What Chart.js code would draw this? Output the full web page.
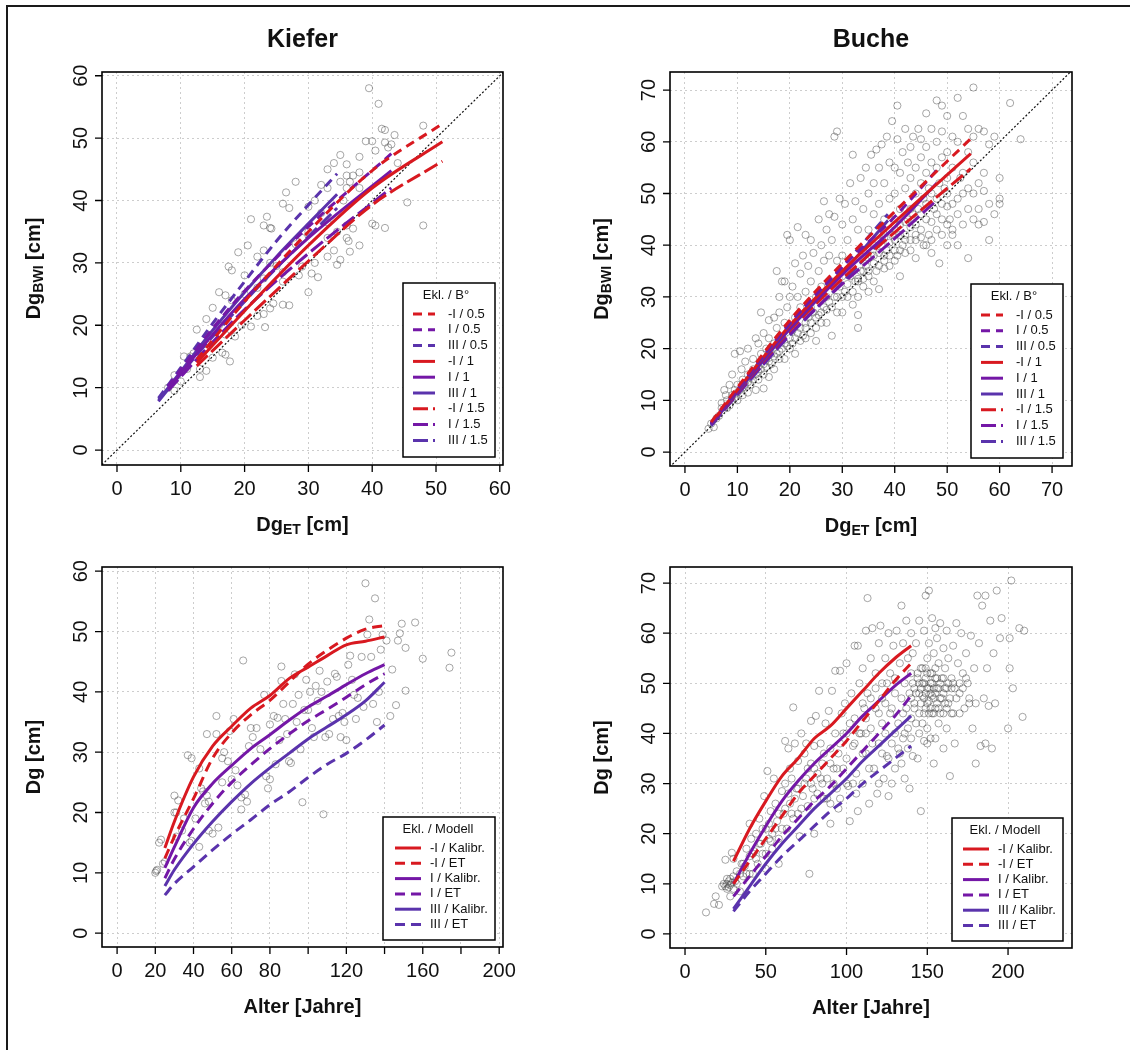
<!DOCTYPE html>
<html>
<head>
<meta charset="utf-8">
<script src="https://cdn.jsdelivr.net/npm/chart.js@4.4.0/dist/chart.umd.min.js"></script>
<style>
    body { margin: 0; background: #fff; overflow: hidden; width: 1130px; height: 1050px; }
    #frame { position: absolute; left: 6px; top: 5px; width: 1130px; height: 1050px; border-top: 2px solid #1a1a1a; border-left: 2px solid #1a1a1a; }
    .panel { position: absolute; }
</style>
</head>
<body>
<div id="frame"></div>
<canvas class="panel" id="kieferTop" width="565" height="545" style="left:0;top:0"></canvas>
<canvas class="panel" id="bucheTop" width="565" height="545" style="left:565px;top:0"></canvas>
<canvas class="panel" id="kieferBottom" width="565" height="505" style="left:0;top:545px"></canvas>
<canvas class="panel" id="bucheBottom" width="565" height="505" style="left:565px;top:545px"></canvas>
<script>
const RED = '#d81920';
const PURPLE = '#7417a6';
const BLUE = '#5a33ac';
const FONT = '"Liberation Sans", Arial, sans-serif';

// ---- axis ticks ----
const kTopTicks = [0, 10, 20, 30, 40, 50, 60];
const bTopTicks = [0, 10, 20, 30, 40, 50, 60, 70];
const kAgeTicks = [0, 20, 40, 60, 80, 100, 120, 140, 160, 180, 200];
const kAgeLabels = [0, 20, 40, 60, 80, 120, 160, 200];
const bAgeTicks = [0, 50, 100, 150, 200];

// ---- legend labels ----
const topLegend = ['-I / 0.5', 'I / 0.5', 'III / 0.5', '-I / 1', 'I / 1', 'III / 1', '-I / 1.5', 'I / 1.5', 'III / 1.5'];
const bottomLegend = ['-I / Kalibr.', '-I / ET', 'I / Kalibr.', 'I / ET', 'III / Kalibr.', 'III / ET'];

// ---- Kiefer, Dg ET vs Dg BWI ----
const kTopXmI = [12.5, 20, 30, 40, 51];
const kTopMI05 = [14.5, 23.8, 35, 44.8, 52.3];
const kTopMI1 = [14, 22.3, 32.8, 42, 49.4];
const kTopMI15 = [13.5, 20.8, 30.3, 39.3, 46.3];
const kTopXI = [8, 15, 20, 30, 43];
const kTopI05 = [10.2, 19.5, 25.5, 35.8, 47.5];
const kTopI1 = [9.8, 18.5, 24.2, 34, 44.8];
const kTopI15 = [9.5, 17.3, 22.5, 31.5, 42];
const kTopXIII = [6.5, 10, 15, 20, 25, 30, 34.5];
const kTopIII05 = [8.3, 13.2, 20.3, 27, 33.5, 39.3, 44.3];
const kTopIII1 = [8, 12.6, 19.2, 25.3, 31, 36.3, 41];
const kTopIII15 = [7.8, 12.2, 18.2, 23.8, 29.2, 34.2, 38.8];
const kTopPoints = [
    [39.5,58],[41,55.5],[41.5,51.5],[48,52],[42,51.3],[43.5,50.5],[39,49.5],[42,49.3],[40,49.5],[43,49],
    [40.5,48],[42.5,48.5],[38,47],[44,46],[35,47.3],[34,46],[36,45.8],[33,45],[38,44.5],[36,44],
    [37,44],[35,43],[36.5,43],[28,43],[32,42.5],[26.5,41.3],[33,42],[36,42],[38,42],[35.5,40],
    [45.5,39.7],[31,40],[30,39],[26,39.5],[27,38.8],[32,38],[21,37],[24,35.6],[23.5,37.4],[23,36],
    [24.2,35.5],[33,36.5],[36,36],[40,36.3],[42,35.6],[48,36],[37,35.5],[40.5,36],[34.5,35],[30,35],
    [29,34],[28,33],[33,34],[36,34],[36.3,33.5],[38,32.8],[34,32],[33,31],[35,30.5],[36.5,31.8],
    [34.5,29.7],[31,30],[29,29.4],[30.5,28.3],[31.5,27.7],[20.5,32.8],[19,31.7],[23,32],[22,31],[24,30],
    [25,29.5],[17.5,29.4],[18,28.8],[26,28.5],[20,28],[23,27.5],[28.5,28],[26,27],[22,26],[16,25.3],
    [17,24.8],[18,24],[20,25],[30,25.3],[27,23.2],[26,23.3],[24.5,23.5],[24,22.7],[23,21.8],[22,21.5],
    [19.5,20],[23.2,19.7],[21,19.8],[15,22.8],[14,21],[16,20],[17,18.5],[18.5,18.2],[12.5,19.3],[14,17],
    [16.5,15.6],[17,15.3],[17.7,14.2],[15,14.8],[13,13],[14,12.7],[13,11.7],[11.5,15],[10.5,15],[12,15.5],
    [11,13],[9,12],[10,11],[8,10],[9,9.5]
];

// ---- Buche, Dg ET vs Dg BWI ----
const bTopXmI = [5, 10, 20, 30, 40, 54.5];
const bTopMI05 = [5.8, 12.5, 25.5, 36.5, 46.5, 60.6];
const bTopMI1 = [5.6, 12, 24.5, 35, 44.5, 57.7];
const bTopMI15 = [5.4, 11.5, 23.5, 33.5, 42.5, 54.8];
const bTopXI = [5, 10, 20, 30, 40, 48];
const bTopI05 = [5.6, 12.2, 25, 35.8, 45.5, 54.5];
const bTopI1 = [5.4, 11.8, 24, 34.3, 43.5, 52];
const bTopI15 = [5.3, 11.3, 22.8, 32.5, 41.3, 48.7];
const bTopXIII = [5, 10, 20, 30, 38.7];
const bTopIII05 = [5.5, 12, 24.8, 35.8, 46];
const bTopIII1 = [5.3, 11.6, 23.8, 34.6, 44.8];
const bTopIII15 = [5.1, 11.1, 22.6, 32.8, 42.3];
const bTopPoints = [
    [4.5,4.5],[5,5.5],[5.5,4.8],[6,6.5],[6.5,7],[7,8.5],[7,9.5],[7.5,12],[7.8,11],[8,10],
    [8,8.5],[8.5,13],[9,15],[9,11],[9.5,19],[9.5,12],[10,13],[10,10],[10.5,19.5],[10.8,16],
    [11,12.5],[11,14],[11.5,17.5],[12,11.5],[12,20],[12,15],[12.5,13],[13,18],[13,16],[13.5,12],
    [13.5,22],[14,21],[14,16.5],[14.5,27],[14.5,19],[15,15],[15,12.3],[15,23],[15.5,20],[15.5,18],
    [16,25.5],[16,14.5],[16,22],[16.5,19],[17,21],[17,26],[17,16],[17.5,35],[17.5,24],[18,27],
    [18,19.5],[18,30],[18.5,33],[18.5,22],[19,33],[19,18],[19,25],[19.5,42],[19.5,28],[20,41],
    [20,22],[20,30],[20.5,23.5],[20.5,32],[21,36.5],[21,26],[21,19],[21.5,43.5],[21.5,30],[22,34.5],
    [22,28],[22,21.5],[22.5,38],[23,42],[23,31],[23,25],[23,22],[23.5,36],[24,41],[24,33],
    [24,28],[24,23],[24.5,38.5],[25,30],[25,26],[25,21.5],[25.5,45],[25.5,35],[26,40],[26,32],
    [26,27],[26.5,48.5],[26.5,37],[27,43],[27,30],[27,25],[27.5,46],[27.5,38],[28,41],[28,33],
    [28,22.5],[28.5,61],[28.5,45.5],[29,62],[29,37],[29,30],[29.5,49],[30,44],[30,38],[30,34],
    [30,27],[30.5,48],[31,41],[31,35],[31,30],[31.5,52],[32,57.5],[32,45],[32,37],[32,28.5],
    [32.5,48.5],[33,43],[33,33.5],[33,26.5],[33,24],[33.5,53],[34,47],[34,39],[34,35],[34.5,55],
    [35,50],[35,43],[35,37.5],[35,31],[35.5,57.5],[36,52],[36,46],[36,40],[36,33],[36.5,58.5],
    [37,55],[37,48],[37,42],[37,31.5],[37.5,59.5],[38,52],[38,45],[38,38],[38,35.5],[38.5,61],
    [39,56],[39,49],[39,43],[39,36],[39.5,64],[40,55],[40,50],[40,45],[40,39],[40.5,67],
    [40.5,60.5],[41,54],[41,47],[41,42],[41,34],[41.5,58],[42,62.5],[42,51],[42,44.5],[42,38.5],
    [42.5,56],[43,59],[43,53],[43,47],[43,41],[43.5,61],[44,55],[44,50],[44,44],[44,37.5],
    [44.5,62.5],[45,60.5],[45,57],[45,52],[45,46],[45.5,40],[46,65.5],[46,59],[46,54],[46,48],
    [46.5,42],[47,62.5],[47,56],[47,50],[47,38.5],[48,68],[48,60],[48,55],[48,49],[48.5,36.5],
    [49,67],[49,62],[49,57],[49,45],[49.5,51],[50,65],[50,58],[50,53],[50,47.5],[50,40],
    [51,61],[51,55],[51,43],[52,68.5],[52,60],[52,49],[53,65],[53,54],[53,44],[54,62.5],
    [54,58],[54,51],[54,37.5],[55,70.5],[55,61],[55,56],[55,50],[56,62.5],[56,52],[56,47],
    [57,62],[57,54],[57,44.5],[58,59.5],[58,48],[59,61],[60,53],[60,48],[62,67.5],[64,60.5],
    [8.5,9],[9,10],[9.5,10.5],[10,11.5],[10.5,12],[11,11],[11.5,13],[12,13.5],[12.5,14.5],[13,14],
    [13.5,15],[14,14],[14,15.5],[14.5,16],[15,17],[15.5,16.5],[16,17.5],[16.5,17],[17,18.5],[17.5,19],
    [18,18],[18.5,20],[19,21],[19.5,20.5],[20,20],[20.5,21],[21,22],[21.5,23],[22,24],[22.5,22.5],
    [23,24],[23.5,26],[24,25],[24.5,27],[25,24],[25.5,26.5],[26,25],[26.5,28],[27,27.5],[27.5,29],
    [28,28],[28.5,30],[29,27],[29.5,32],[30,30],[30.5,31],[31,32.5],[31.5,34],[32,31],[32.5,33],
    [33,30],[33.5,35],[34,32],[34.5,36],[35,34],[35.5,38],[36,36.5],[36.5,35],[37,38.5],[37.5,40],
    [38,41.5],[38.5,39],[39,40.5],[39.5,42],[40,41],[40.5,38],[41,44],[41.5,40],[42,42],[42.5,45],
    [43,43.5],[43.5,46],[44,41],[44.5,47],[45,43],[45.5,49],[46,45],[46.5,51],[47,44.5],[47.5,47],
    [48,46],[48.5,52],[49,48],[50,50],[50.5,45],[51,48],[52,46],[52.5,53],[53,50],[54,47],
    [55,45],[56,44],[57,50.5],[58,41],[59,46],[60,49],[33,33],[34,33.5],[35,35],[36,38],
    [37,36],[38,37],[39,38],[40,37],[41,39],[42,41],[43,39],[44,42],[45,41.5],[46,40],
    [47,41],[48,43],[49,42],[50,44],[51,42],[52,40]
];

// ---- Kiefer, Alter vs Dg ----
const kAge = [25, 30, 40, 50, 60, 70, 80, 90, 100, 110, 120, 130, 140];
const kMIKal = [14.1, 18.5, 25.9, 31, 34.3, 37.3, 39.4, 42.2, 44.1, 46, 47.8, 48.4, 49.1];
const kMIEt = [12.4, 16, 22.3, 29, 33.2, 36.2, 38.6, 41.6, 44.6, 46.9, 48.9, 50.4, 51];
const kIKal = [10.8, 14.3, 20.8, 24.8, 27.8, 30.6, 32.9, 35.3, 37.5, 39.3, 41.2, 43, 44.5];
const kIEt = [9.1, 12.3, 17.3, 21.5, 25, 27.9, 30.6, 33, 35.2, 37.1, 39.1, 41.2, 43];
const kIIIKal = [7.8, 10.5, 14.8, 18.5, 21.8, 24.8, 27.4, 29.8, 32.2, 34.2, 36.2, 38.5, 41.6];
const kIIIEt = [6.3, 8.2, 11, 13.8, 16.4, 18.8, 21.3, 23.4, 25.8, 28, 29.8, 32, 34.5];
const kAgePoints = [
    [20,10],[20.5,10.3],[21,10.5],[22,15],[23,15.5],[24,11.5],[25,11.8],[30,22.8],[30,20],[31,20],
    [32,22],[31,16],[35,19],[34,17],[37,29.5],[39,29],[38,15],[39,15.3],[41,19],[43,27.3],
    [43,14.3],[44,24],[45,23.5],[46,21.5],[47,22.8],[47,33],[48,17],[48,21.8],[50,16.5],[52,36],
    [52,33],[53,17.5],[55,25],[55,29],[56,30],[58,28.5],[59,33.5],[60,25.5],[61,35.5],[62,27],
    [63,24.5],[65,22.5],[65,20.5],[66,45.2],[67,23],[68,21.8],[69,31],[70,34],[71,32.5],[73,34],
    [75,30.5],[77,39.5],[78,26],[79,24],[80,25.5],[80,34.6],[82,36],[83,28],[84,35.7],[85,32],
    [86,44.2],[86,41.8],[87,38],[88,35.5],[89,33],[90,28.5],[91,28.2],[92,38],[93,42.9],[94,35],
    [95,39.5],[96,30.5],[97,21.7],[98,37],[99,42],[100,37],[101,40],[102,34],[103,32.5],[104,41],
    [105,38.5],[106,43.5],[107,40],[108,19.7],[109,32.5],[110,41.7],[111,33],[113,35.5],[114,43],[115,42.5],
    [116,36],[117,32.5],[118,36.5],[119,35],[120,32],[121,44.5],[122,46],[123,42],[124,39.5],[125,35.5],
    [126,39],[128,45.8],[129,37.5],[130,58],[131,49.5],[132,52],[133,45.8],[134,38],[135,55.5],[136,35],
    [137,40],[138,47],[139,49.5],[141,48.5],[143,36],[144,43.7],[146,37.8],[147,48.5],[148,49.7],[149,51.3],
    [151,47.3],[151,40.2],[156,51.5],[160,45.5],[174,44],[175,46.5]
];

// ---- Buche, Alter vs Dg ----
const bAge = [30, 40, 50, 60, 70, 80, 90, 100, 110, 120, 130, 140];
const bMIKal = [14.5, 21, 26.5, 31.5, 35, 39, 41.5, 45, 48.5, 52, 55, 57.5];
const bMIEt = [10, 14.5, 19, 23.5, 28, 31.5, 35, 38.5, 42.5, 46.5, 50.5, 54];
const bIKal = [10, 16, 21.5, 26.5, 30.5, 34, 37, 40, 43.5, 46.5, 49.5, 52];
const bIEt = [7.5, 11.5, 15.5, 19.5, 23, 26.5, 29.5, 33, 36.5, 40, 43.5, 47.5];
const bIIIKal = [5, 9.5, 14, 18, 21.5, 25, 28, 31, 34.5, 37.5, 40.5, 43.5];
const bIIIEt = [4.5, 8.5, 12, 15.5, 18.5, 21.5, 24.5, 27, 30, 32.5, 35, 37.5];
const bAgePoints = [
    [13,4.3],[18,6],[19,7.5],[21,5.8],[23,9.5],[24,10],[25,14.8],[26,9],[26,11],[27,10.5],
    [28,9.8],[28,7.5],[29,16.2],[30,11.5],[30,15],[31,10.5],[32,12.5],[34,8.5],[35,14],[36,11.5],
    [37,13.5],[38,17],[40,22],[40,15.5],[41,19],[42,12],[43,16.5],[44,20],[45,14],[46,23],
    [47,18],[48,21],[49,27.5],[50,16],[50,13],[51,32.5],[52,22],[53,24.5],[53,18.5],[54,20],
    [55,31],[56,26],[57,22.5],[58,14],[58,19],[60,28.5],[61,24],[62,38.5],[62,30],[63,21],
    [64,37],[65,33],[65,26],[66,31],[67,45.2],[67,23],[68,38],[69,29],[70,34.5],[70,24],
    [71,19.5],[72,40],[73,27.5],[74,36],[75,38],[75,31],[76,25.5],[77,12],[78,42.5],[78,34],
    [79,29],[80,37.5],[80,20],[81,43.5],[82,32],[83,48.5],[84,38],[85,34],[86,27],[87,42],
    [88,31],[89,44.5],[90,37],[90,22],[91,48.5],[92,33],[93,52.5],[93,40],[94,29],[95,25],
    [96,52.5],[96,38],[97,44],[98,33],[99,46],[100,54],[100,40],[101,29.5],[102,22.5],[103,48],
    [104,37.5],[105,57.5],[105,43],[106,32],[107,57.5],[107,24.5],[108,50],[109,40],[110,53],[110,30],
    [111,45],[112,60.5],[112,36],[113,67],[113,48],[114,26],[115,55],[115,41],[116,61],[117,33],
    [118,52],[118,45],[119,28],[120,58],[120,38],[121,61.5],[122,50],[122,42],[123,31],[124,55],
    [124,46],[125,35.5],[126,60],[126,27.5],[127,52],[127,44],[128,38],[129,57.5],[130,48],[130,33],
    [131,60.5],[132,42],[133,54],[133,36],[134,65.5],[134,47],[135,58],[135,39],[136,50],[136,31],
    [137,62.5],[137,45],[138,55],[138,37],[139,48],[139,29],[140,60],[140,52],[140,43],[141,56],
    [141,35.5],[142,49],[142,46],[143,58],[143,42],[144,51],[144,35],[145,62.5],[145,48],[145,44],
    [146,53],[146,24.5],[147,50],[147,42],[148,60.5],[148,47],[148,38.5],[149,67.5],[149,51],[149,45],
    [150,55],[150,49],[150,41],[151,68.5],[151,58],[151,46.5],[152,52],[152,48],[152,39],[153,63],
    [153,50],[153,44],[154,56],[154,47],[154,34],[155,61],[155,51],[155,45],[156,59],[156,49],
    [157,42],[157,54],[158,62],[158,47],[159,51],[160,57],[160,44],[160,37],[161,53],[161,49],
    [162,60.5],[162,41],[163,55],[163,46],[164,31.5],[165,51],[166,57.5],[166,44],[167,49],[167,38],
    [168,62],[169,54],[170,48],[170,44],[171,60],[172,52],[173,45],[174,56],[175,50],[176,47],
    [177,59.5],[178,41],[179,53],[180,34],[180,46],[181,67.5],[182,58],[183,37.5],[184,65.5],[185,47],
    [186,67.5],[186,38],[187,53],[188,45.5],[189,62.5],[190,37],[191,56],[192,46],[193,68.5],[195,59],
    [196,63],[200,41],[201,59],[201,53],[202,70.5],[203,49],[207,61],[209,43.3],[210,60.5],
    [140,47],[141,50],[142,45],[143,48],[144,52],[145,50],[146,46],[146,49],[147,53],[147,47.5],
    [148,50],[148,44],[149,48],[149,53],[150,46],[150,52],[151,49],[151,44],[152,50],[152,45],
    [153,47.5],[153,52],[154,49],[154,44],[155,48],[155,53],[156,46],[156,51],[157,49],[157,45],
    [158,50],[158,44],[159,47],[160,51],[160,48],[161,46],[162,49],[162,45],[163,50],[164,47],
    [165,49],[165,44],[166,50],[168,47],[170,50],[172,49],[174,51],[176,46],[145,40],[150,38],
    [155,39],[140,39],[135,44],[130,51],[128,45],[125,50],[122,47],[120,44],[118,49],[115,47],
    [112,43],[110,46],[108,40],[105,38],[102,42],[100,35],[98,40],[95,36],[92,30],[90,34],
    [88,27],[85,30],[82,28],[80,33],[78,30],[76,33],[74,30],[72,25],[70,29],[68,27],
    [66,24],[64,28],[62,25],[60,21],[58,24],[56,21],[54,17],[52,19],[50,21],[48,16],
    [46,18],[44,15],[42,16],[40,12],[38,12],[36,14],[34,12],[32,10],[30,9],[28,11],
    [26,10],[27,9.3],[29,10.2],[25,9.5],[138,41],[136,40],[134,34],[132,37],[130,40],[128,30],
    [126,35],[124,40],[122,36],[120,30],[116,38],[114,33],[112,40],[110,36],[106,28],[104,30],
    [100,30],[96,27],[94,33],[90,26],[86,36],[84,31],[80,27]
];

const DASH_05 = [9, 6];
const DASH_15 = [15, 5];
const DASH_ET = [10, 6];

function pts(xs, ys) {
    return xs.map((v, i) => ({ x: v, y: ys[i] }));
}

function curve(label, xs, ys, color, dash) {
    return {
        label: label,
        data: pts(xs, ys),
        showLine: true,
        borderColor: color,
        backgroundColor: color,
        borderWidth: 3,
        borderDash: dash,
        pointRadius: 0,
        cubicInterpolationMode: 'monotone',
        legendEntry: true,
        order: 0
    };
}

function cloud(pairs) {
    return {
        label: 'obs',
        data: pairs.map(p => ({ x: p[0], y: p[1] })),
        pointStyle: 'circle',
        pointRadius: 3.6,
        borderWidth: 0.9,
        borderColor: 'rgba(60,60,60,0.5)',
        backgroundColor: 'rgba(0,0,0,0)',
        order: 10
    };
}

function diagonal(max) {
    return {
        label: '1:1',
        data: [{ x: -10, y: -10 }, { x: max, y: max }],
        showLine: true,
        borderColor: '#111',
        borderWidth: 1.2,
        borderDash: [2, 2],
        pointRadius: 0,
        order: 5
    };
}

function drawLabel(ctx, cx, cy, parts) {
    const big = 'bold 20px ' + FONT;
    const small = 'bold 14px ' + FONT;
    ctx.font = big;
    const w0 = ctx.measureText(parts[0]).width;
    const w2 = ctx.measureText(parts[2]).width;
    ctx.font = small;
    const w1 = ctx.measureText(parts[1]).width;
    let xPos = cx - (w0 + w1 + w2) / 2;
    ctx.textAlign = 'left';
    ctx.textBaseline = 'middle';
    ctx.font = big;
    ctx.fillText(parts[0], xPos, cy);
    xPos += w0;
    ctx.font = small;
    ctx.fillText(parts[1], xPos, cy + 5);
    xPos += w1;
    ctx.font = big;
    ctx.fillText(parts[2], xPos, cy);
}

// draws the R style box, ticks, labels, titles and legend
const rStyle = {
    id: 'rStyle',
    afterDraw(chart, args, o) {
        const ctx = chart.ctx;
        const a = chart.chartArea;
        const xs = chart.scales.x;
        const ys = chart.scales.y;
        ctx.save();
        ctx.strokeStyle = '#000';
        ctx.lineWidth = 1.6;
        ctx.setLineDash([]);
        ctx.strokeRect(a.left, a.top, a.right - a.left, a.bottom - a.top);

        ctx.lineWidth = 1.3;
        ctx.beginPath();
        o.xTicks.forEach(v => {
            const p = xs.getPixelForValue(v);
            ctx.moveTo(p, a.bottom);
            ctx.lineTo(p, a.bottom + 7);
        });
        o.yTicks.forEach(v => {
            const p = ys.getPixelForValue(v);
            ctx.moveTo(a.left, p);
            ctx.lineTo(a.left - 7, p);
        });
        ctx.stroke();

        ctx.fillStyle = '#111';
        ctx.font = '20px ' + FONT;
        ctx.textAlign = 'center';
        ctx.textBaseline = 'middle';
        o.xLabels.forEach(v => ctx.fillText(String(v), xs.getPixelForValue(v), a.bottom + 24));
        o.yTicks.forEach(v => {
            ctx.save();
            ctx.translate(a.left - 21, ys.getPixelForValue(v));
            ctx.rotate(-Math.PI / 2);
            ctx.fillText(String(v), 0, 0);
            ctx.restore();
        });

        const midX = (a.left + a.right) / 2;
        const midY = (a.top + a.bottom) / 2;
        if (o.title) {
            ctx.font = 'bold 25px ' + FONT;
            ctx.fillText(o.title, midX, a.top - 32);
        }
        if (o.xTitle.length === 1) {
            ctx.font = 'bold 20px ' + FONT;
            ctx.fillText(o.xTitle[0], midX, a.bottom + 60);
        } else {
            drawLabel(ctx, midX, a.bottom + 60, o.xTitle);
        }
        ctx.save();
        ctx.translate(a.left - 68, midY);
        ctx.rotate(-Math.PI / 2);
        if (o.yTitle.length === 1) {
            ctx.font = 'bold 20px ' + FONT;
            ctx.textAlign = 'center';
            ctx.fillText(o.yTitle[0], 0, 0);
        } else {
            drawLabel(ctx, 0, 0, o.yTitle);
        }
        ctx.restore();

        // legend
        const lg = o.legend;
        const bx = a.right - lg.right - lg.w;
        const by = a.bottom - lg.bottom - lg.h;
        ctx.fillStyle = '#fff';
        ctx.fillRect(bx, by, lg.w, lg.h);
        ctx.strokeStyle = '#000';
        ctx.lineWidth = 1.5;
        ctx.strokeRect(bx, by, lg.w, lg.h);
        ctx.fillStyle = '#111';
        ctx.font = '13px ' + FONT;
        ctx.textAlign = 'center';
        ctx.fillText(lg.title, bx + lg.titleX, by + 12);
        ctx.textAlign = 'left';
        const items = chart.data.datasets.filter(d => d.legendEntry);
        items.forEach((d, i) => {
            const yy = by + lg.rowTop + i * lg.rowGap;
            ctx.strokeStyle = d.borderColor;
            ctx.lineWidth = 3;
            ctx.setLineDash(d.borderDash || []);
            ctx.beginPath();
            ctx.moveTo(bx + lg.line0, yy);
            ctx.lineTo(bx + lg.line1, yy);
            ctx.stroke();
            ctx.fillText(d.label, bx + lg.textX, yy);
        });
        ctx.restore();
    }
};

function makeChart(id, datasets, xr, yr, pad, cfg) {
    const axis = (range, ticks, isX) => ({
        type: 'linear',
        min: range[0],
        max: range[1],
        afterBuildTicks: s => { s.ticks = ticks.map(v => ({ value: v })); },
        afterFit: s => { if (isX) s.height = 0; else s.width = 0; },
        ticks: { display: false },
        grid: { color: '#cdcdcd', lineWidth: 1, drawTicks: false },
        border: { display: false, dash: [2, 3] }
    });
    return new Chart(document.getElementById(id), {
        type: 'scatter',
        data: { datasets: datasets },
        options: {
            responsive: false,
            animation: false,
            events: [],
            layout: { padding: pad },
            scales: {
                x: axis(xr, cfg.xTicks, true),
                y: axis(yr, cfg.yTicks, false)
            },
            plugins: {
                legend: { display: false },
                tooltip: { enabled: false },
                rStyle: cfg
            }
        },
        plugins: [rStyle]
    });
}

const topLegendBox = { title: 'Ekl. / B°', w: 92, h: 174, right: 8, bottom: 8, titleX: 43, rowTop: 31, rowGap: 15.8, line0: 10, line1: 32, textX: 45 };
const bottomLegendBox = { title: 'Ekl. / Modell', w: 112, h: 123, right: 8, bottom: 7, titleX: 55, rowTop: 31, rowGap: 15.3, line0: 12, line1: 38, textX: 47 };

makeChart('kieferTop', [
    curve(topLegend[0], kTopXmI, kTopMI05, RED, DASH_05),
    curve(topLegend[1], kTopXI, kTopI05, PURPLE, DASH_05),
    curve(topLegend[2], kTopXIII, kTopIII05, BLUE, DASH_05),
    curve(topLegend[3], kTopXmI, kTopMI1, RED, []),
    curve(topLegend[4], kTopXI, kTopI1, PURPLE, []),
    curve(topLegend[5], kTopXIII, kTopIII1, BLUE, []),
    curve(topLegend[6], kTopXmI, kTopMI15, RED, DASH_15),
    curve(topLegend[7], kTopXI, kTopI15, PURPLE, DASH_15),
    curve(topLegend[8], kTopXIII, kTopIII15, BLUE, DASH_15),
    diagonal(70),
    cloud(kTopPoints)
], [-2.35, 60.5], [-2.4, 60.6], { left: 102, top: 72, right: 62, bottom: 80 }, {
    xTicks: kTopTicks, xLabels: kTopTicks, yTicks: kTopTicks,
    title: 'Kiefer', xTitle: ['Dg', 'ET', ' [cm]'], yTitle: ['Dg', 'BWI', ' [cm]'],
    legend: topLegendBox
});

makeChart('bucheTop', [
    curve(topLegend[0], bTopXmI, bTopMI05, RED, DASH_05),
    curve(topLegend[1], bTopXI, bTopI05, PURPLE, DASH_05),
    curve(topLegend[2], bTopXIII, bTopIII05, BLUE, DASH_05),
    curve(topLegend[3], bTopXmI, bTopMI1, RED, []),
    curve(topLegend[4], bTopXI, bTopI1, PURPLE, []),
    curve(topLegend[5], bTopXIII, bTopIII1, BLUE, []),
    curve(topLegend[6], bTopXmI, bTopMI15, RED, DASH_15),
    curve(topLegend[7], bTopXI, bTopI15, PURPLE, DASH_15),
    curve(topLegend[8], bTopXIII, bTopIII15, BLUE, DASH_15),
    diagonal(80),
    cloud(bTopPoints)
], [-2.85, 73.8], [-2.7, 73.5], { left: 105, top: 72, right: 58, bottom: 79 }, {
    xTicks: bTopTicks, xLabels: bTopTicks, yTicks: bTopTicks,
    title: 'Buche', xTitle: ['Dg', 'ET', ' [cm]'], yTitle: ['Dg', 'BWI', ' [cm]'],
    legend: Object.assign({}, topLegendBox, { right: 9 })
});

makeChart('kieferBottom', [
    curve(bottomLegend[0], kAge, kMIKal, RED, []),
    curve(bottomLegend[1], kAge, kMIEt, RED, DASH_ET),
    curve(bottomLegend[2], kAge, kIKal, PURPLE, []),
    curve(bottomLegend[3], kAge, kIEt, PURPLE, DASH_ET),
    curve(bottomLegend[4], kAge, kIIIKal, BLUE, []),
    curve(bottomLegend[5], kAge, kIIIEt, BLUE, DASH_ET),
    cloud(kAgePoints)
], [-7.9, 202], [-2.3, 60.7], { left: 102, top: 22, right: 62, bottom: 103 }, {
    xTicks: kAgeTicks, xLabels: kAgeLabels, yTicks: kTopTicks,
    title: '', xTitle: ['Alter [Jahre]'], yTitle: ['Dg [cm]'],
    legend: bottomLegendBox
});

makeChart('bucheBottom', [
    curve(bottomLegend[0], bAge, bMIKal, RED, []),
    curve(bottomLegend[1], bAge, bMIEt, RED, DASH_ET),
    curve(bottomLegend[2], bAge, bIKal, PURPLE, []),
    curve(bottomLegend[3], bAge, bIEt, PURPLE, DASH_ET),
    curve(bottomLegend[4], bAge, bIIIKal, BLUE, []),
    curve(bottomLegend[5], bAge, bIIIEt, BLUE, DASH_ET),
    cloud(bAgePoints)
], [-9.3, 239.6], [-2.8, 73.2], { left: 105, top: 22, right: 58, bottom: 102 }, {
    xTicks: bAgeTicks, xLabels: bAgeTicks, yTicks: bTopTicks,
    title: '', xTitle: ['Alter [Jahre]'], yTitle: ['Dg [cm]'],
    legend: Object.assign({}, bottomLegendBox, { w: 111, right: 9, titleX: 53, line0: 11, line1: 37, textX: 46 })
});
</script>
</body>
</html>
